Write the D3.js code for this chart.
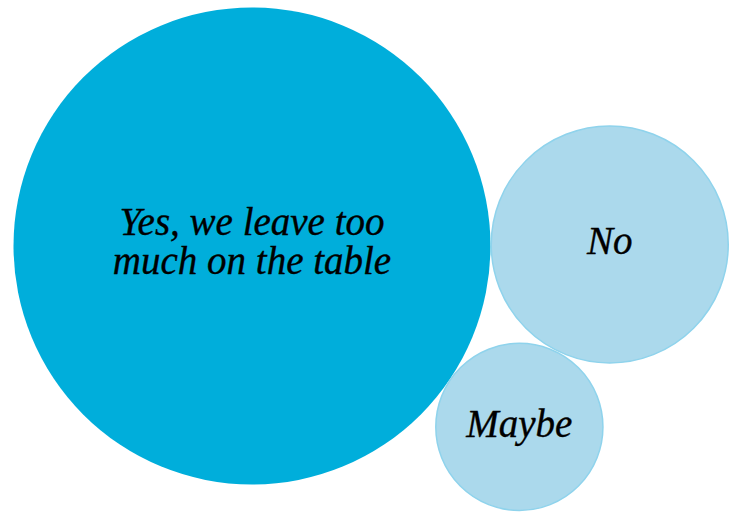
<!DOCTYPE html>
<html>
<head>
<meta charset="utf-8">
<script src="https://cdn.jsdelivr.net/npm/d3@7"></script>
<style>
  html, body { margin: 0; padding: 0; background: #ffffff; }
  svg { display: block; }
</style>
</head>
<body>
<script>
// Survey answers, share of respondents (%)
const answers = ["Yes, we leave too much on the table", "No", "Maybe"];
const labelLines = [["Yes, we leave too", "much on the table"], ["No"], ["Maybe"]];
const shares = [72, 18, 9];
const fills = ["#00aedb", "#abd9ec", "#abd9ec"];
const strokes = ["none", "#8fd3ec", "#8fd3ec"];

const width = 732, height = 512;
const svg = d3.select("body").append("svg")
  .attr("width", width).attr("height", height);

// Circle area proportional to share
const r = d3.scaleSqrt().domain([0, shares[0]]).range([0, 238.5]);
const radii = shares.map(d => r(d));

// Bubble layout: largest on the left, "No" touching it on the right,
// "Maybe" tucked under both, touching each.
const c0 = { x: 252, y: 246 };
const ang = -0.0042;
const d01 = radii[0] + radii[1];
const c1 = { x: c0.x + d01 * Math.cos(ang), y: c0.y + d01 * Math.sin(ang) };
function tangentBelow(a, ra, b, rb, rc) {
  const da = ra + rc, db = rb + rc;
  const dx = b.x - a.x, dy = b.y - a.y;
  const d = Math.hypot(dx, dy);
  const t = (da * da - db * db + d * d) / (2 * d);
  const h = Math.sqrt(Math.max(0, da * da - t * t));
  const ux = dx / d, uy = dy / d;
  return { x: a.x + ux * t - uy * h, y: a.y + uy * t + ux * h };
}
const c2 = tangentBelow(c0, radii[0], c1, radii[1], radii[2]);
const centers = [c0, c1, c2];

const nodes = answers.map((a, i) => ({
  answer: a, lines: labelLines[i], share: shares[i],
  r: radii[i], x: centers[i].x, y: centers[i].y,
  fill: fills[i], stroke: strokes[i]
}));

const g = svg.selectAll("g.bubble").data(nodes).join("g")
  .attr("class", "bubble")
  .attr("transform", d => `translate(${d.x},${d.y})`);

g.append("circle")
  .attr("r", d => d.stroke === "none" ? d.r : d.r - 0.75)
  .attr("fill", d => d.fill)
  .attr("stroke", d => d.stroke)
  .attr("stroke-width", 1.5);

const lineH = 39;
g.append("text")
  .attr("text-anchor", "middle")
  .attr("font-family", "'Liberation Serif', 'Times New Roman', serif")
  .attr("font-style", "italic")
  .attr("font-size", 39)
  .attr("fill", "#000")
  .attr("stroke", "#000")
  .attr("stroke-width", 0.35)
  .selectAll("tspan").data(d => d.lines.map((l, i, arr) => ({ l, i, n: arr.length })))
  .join("tspan")
  .attr("x", 0)
  .attr("y", d => d.n > 1 ? (d.i - (d.n - 1) / 2) * lineH + 8.5 : 10)
  .text(d => d.l);
</script>
</body>
</html>
